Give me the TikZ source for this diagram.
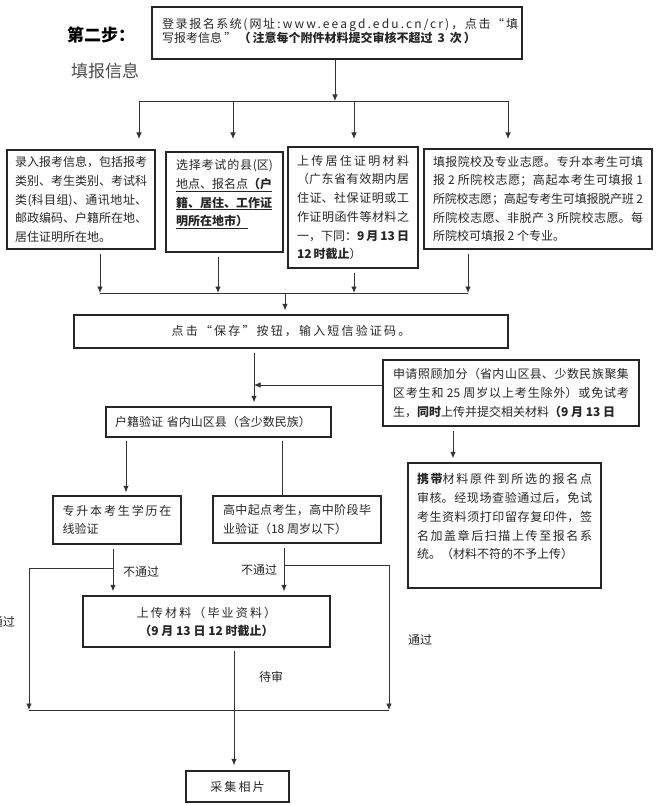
\documentclass[tikz,border=0pt]{standalone}
\usepackage{fontspec}
\setmainfont{Noto Sans CJK SC}
\newfontfamily\spaced{Noto Sans CJK SC}[LetterSpace=18]
\XeTeXlinebreaklocale "zh"
\XeTeXlinebreakskip=0pt plus 2pt minus 0.6pt
\XeTeXlinebreakpenalty=10000
\tolerance=10000 \hbadness=10000 \hfuzz=30pt
\setlength\parindent{0pt}
\usetikzlibrary{arrows.meta}
\tikzset{auto, >={Latex[length=6.5pt,width=5.5pt]}, x=1pt, y=-1pt}
\newcommand\bodyfont{\fontsize{12}{18.7}\selectfont}
\tikzstyle{block} = [draw=black!85, line width=1.2pt, rectangle, inner sep=0pt, text=black!85, align=justify, font=\bodyfont]
\tikzstyle{plain} = [inner sep=0pt, text=black!85, font=\bodyfont]
\tikzstyle{line} = [draw=black!80, line width=0.9pt]

\begin{document}
\begin{tikzpicture}
    \useasboundingbox (0,0) rectangle (656,805);
    % heading
    \node [plain, text=black, font=\fontsize{17}{17}\selectfont\bfseries] (step) at (101,35) {第二步：};
    \node [plain, text=black!70, font=\fontsize{17}{17}\selectfont] (stepname) at (105,71) {填报信息};

    % first row
    \node [block, minimum width=370, minimum height=52] (login) at (337,33) {};
    \node [plain, anchor=north west, text width=356, align=justify, font=\spaced\fontsize{12}{12.5}\selectfont] (logintext) at (162,18) {登录报名系统(网址:www.eeagd.edu.cn/cr)，点击“填\linebreak 写报考信息”\textbf{（注意每个附件材料提交审核不超过~3~次）}};

    \node [block, minimum width=148, minimum height=99, text width=132] (luru) at (81,199.5) {录入报考信息，包括报考\linebreak 类别、考生类别、考试科\linebreak 类(科目组)、通讯地址、\linebreak 邮政编码、户籍所在地、\linebreak 居住证明所在地。};
    \node [block, minimum width=117, minimum height=100, text width=97] (xianqu) at (224.5,202) {选择考试的县(区)\linebreak \underline{地点、报名点\textbf{（户}}\linebreak \underline{\textbf{籍、居住、工作证}}\linebreak \underline{\textbf{明所在地市）}}\newline\mbox{}};
    \node [block, minimum width=130, minimum height=121, text width=112] (juzhu) at (353,207.5) {上传居住证明材料\linebreak （广东省有效期内居\linebreak 住证、社保证明或工\linebreak 作证明函件等材料之\linebreak 一，下同：\textbf{9\,月\,13\,日}\linebreak \textbf{12\,时截止}）};
    \node [block, minimum width=228, minimum height=100, text width=210] (zhiyuan) at (538,199) {填报院校及专业志愿。专升本考生可填\linebreak 报~2~所院校志愿；高起本考生可填报~1\linebreak 所院校志愿；高起专考生可填报脱产班~2\linebreak 所院校志愿、非脱产~3~所院校志愿。每\linebreak 所院校可填报~2~个专业。};

    % save and checks
    \node [block, minimum width=434, minimum height=33, align=center, font=\spaced\bodyfont] (baocun) at (291,331.5) {点击“保存”按钮，输入短信验证码。};
    \node [block, minimum width=256, minimum height=66, text width=236] (zhaogu) at (511,393) {申请照顾加分（省内山区县、少数民族聚集\linebreak 区考生和~25~周岁以上考生除外）或免试考\linebreak 生，\textbf{同时}上传并提交相关材料\textbf{（9~月~13~日}};
    \node [block, minimum width=225, minimum height=30, text width=207, align=left] (huji) at (218.5,422) {户籍验证~省内山区县（含少数民族）};
    \node [block, minimum width=193, minimum height=125, text width=175] (xiedai) at (504.5,525.5) {\textbf{携带}材料原件到所选的报名点\linebreak 审核。经现场查验通过后，免试\linebreak 考生资料须打印留存复印件，签\linebreak 名加盖章后扫描上传至报名系\linebreak 统。（材料不符的不予上传）\newline\mbox{}};
    \node [block, minimum width=128, minimum height=48, text width=109] (zsb) at (117,520) {专升本考生学历在\linebreak 线验证};
    \node [block, minimum width=168, minimum height=47, text width=148] (gaozhong) at (297,519.5) {高中起点考生，高中阶段毕\linebreak 业验证（18~周岁以下）};
    \node [block, minimum width=247, minimum height=51, align=center, font=\fontsize{12}{18}\selectfont] (shangchuan) at (206.5,621.5) {{\spaced 上传材料（毕业资料）}\\\textbf{（9~月~13~日~12~时截止）}};
    \node [block, minimum width=103, minimum height=31, align=center, font=\spaced\bodyfont] (caiji) at (237.5,786.5) {采集相片};

    % labels
    \node [plain] (fail1) at (141,572) {不通过};
    \node [plain] (fail2) at (259,570) {不通过};
    \node [plain, anchor=east] (pass1) at (15,622) {通过};
    \node [plain] (pass2) at (420,640) {通过};
    \node [plain] (pending) at (271,677) {待审};

    % junctions
    \coordinate (fork) at (335,101);
    \coordinate (forkL) at (139,101);
    \coordinate (forkR) at (508,101);
    \coordinate (mergeA) at (100,293);
    \coordinate (mergeB) at (218,293);
    \coordinate (mergeC) at (354,293);
    \coordinate (mergeD) at (468,293);
    \coordinate (merge) at (285,293);
    \coordinate (trunk) at (254,385);
    \coordinate (carry) at (453,445);
    \coordinate (hujiL) at (126,460);
    \coordinate (hujiR) at (282,460);
    \coordinate (failL) at (113,568);
    \coordinate (failR) at (284,565);
    \coordinate (passL) at (29,710);
    \coordinate (passR) at (389,710);
    \coordinate (photo) at (234,700);

    \draw [line,->] (login.south -| fork) -- (fork);
    \draw [line] (forkL) -- (forkR);
    \foreach \x [count=\i] in {139,233,354,508} {
        \coordinate (drop\i) at (\x,139);
        \draw [line,->] (drop\i |- fork) -- (drop\i);
    }
    \foreach \b/\m in {luru/mergeA, xianqu/mergeB, juzhu/mergeC, zhiyuan/mergeD}
        \draw [line,->,shorten <=4pt] (\b.south -| \m) -- (\m);
    \draw [line] (mergeA) -- (mergeD);
    \draw [line,->,shorten >=4pt] (merge) -- (baocun.north -| merge);
    \draw [line,->,shorten <=4pt,shorten >=4pt] (baocun.south -| trunk) -- (huji.north -| trunk);
    \draw [line,->] (zhaogu.west |- trunk) -- (trunk);
    \draw [line,->,shorten <=4pt,shorten >=4pt] (zhaogu.south -| carry) -- (xiedai.north -| carry);
    \draw [line,->,shorten <=3pt,shorten >=3pt] (huji.south -| hujiL) -- (zsb.north -| hujiL);
    \draw [line,shorten <=3pt] (huji.south -| hujiR) -- (gaozhong.north -| hujiR);
    \draw [line,->,shorten <=4pt,shorten >=4pt] (zsb.south -| failL) -- (shangchuan.north -| failL);
    \draw [line,->,shorten <=4pt,shorten >=4pt] (gaozhong.south -| failR) -- (shangchuan.north -| failR);
    \draw [line,->] (failL) -| (passL);
    \draw [line,->] (failR) -| (passR);
    \draw [line] (passL) -- (passR);
    \draw [line,->,shorten <=3pt,shorten >=5pt] (shangchuan.south -| photo) -- (caiji.north -| photo);
\end{tikzpicture}
\end{document}
